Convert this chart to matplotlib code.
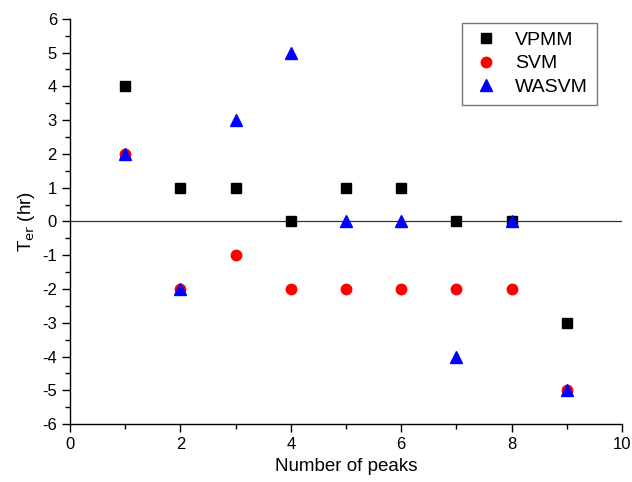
import numpy as np
import matplotlib
matplotlib.use('Agg')
import matplotlib.pyplot as plt
from matplotlib.ticker import MultipleLocator

plt.rcParams['font.family'] = ['Liberation Sans', 'DejaVu Sans']
plt.rcParams['axes.unicode_minus'] = False

peaks = [1, 2, 3, 4, 5, 6, 7, 8, 9]
vpmm = [4, 1, 1, 0, 1, 1, 0, 0, -3]
svm = [2, -2, -1, -2, -2, -2, -2, -2, -5]
wasvm = [2, -2, 3, 5, 0, 0, -4, 0, -5]

fig = plt.figure(figsize=(6.32, 4.82), dpi=100)
ax = fig.add_axes([0.111, 0.120, 0.873, 0.841])

ax.axhline(0, color='#333333', lw=0.9, zorder=1)
ax.plot(peaks, vpmm, 's', color='black', ms=7, ls='none', label='VPMM', zorder=3)
ax.plot(peaks, svm, 'o', color='red', ms=7.5, ls='none', label='SVM', zorder=2)
ax.plot(peaks, wasvm, '^', color='blue', ms=8, ls='none', label='WASVM', zorder=4)

ax.set_xlim(0, 10)
ax.set_ylim(-6, 6)
ax.xaxis.set_major_locator(MultipleLocator(2))
ax.xaxis.set_minor_locator(MultipleLocator(1))
ax.yaxis.set_major_locator(MultipleLocator(1))
ax.yaxis.set_minor_locator(MultipleLocator(0.5))

for s in ['top', 'right']:
    ax.spines[s].set_visible(False)
for s in ['left', 'bottom']:
    ax.spines[s].set_linewidth(1.0)

ax.tick_params(which='major', direction='out', length=6, width=1.0, labelsize=12)
ax.tick_params(which='minor', direction='out', length=3.5, width=1.0)

ax.set_xlabel('Number of peaks', fontsize=13.5)
ax.set_ylabel(r'T$_{\rm er}$ (hr)', fontsize=13.5)

leg = ax.legend(loc='upper right', bbox_to_anchor=(0.965, 1.005), fontsize=14,
                frameon=True, fancybox=False, edgecolor='#555555',
                handlelength=1.6, handletextpad=0.7, borderpad=0.45,
                labelspacing=0.3, borderaxespad=0.3)
leg.get_frame().set_linewidth(1.0)

fig.savefig('out.png', dpi=100)
